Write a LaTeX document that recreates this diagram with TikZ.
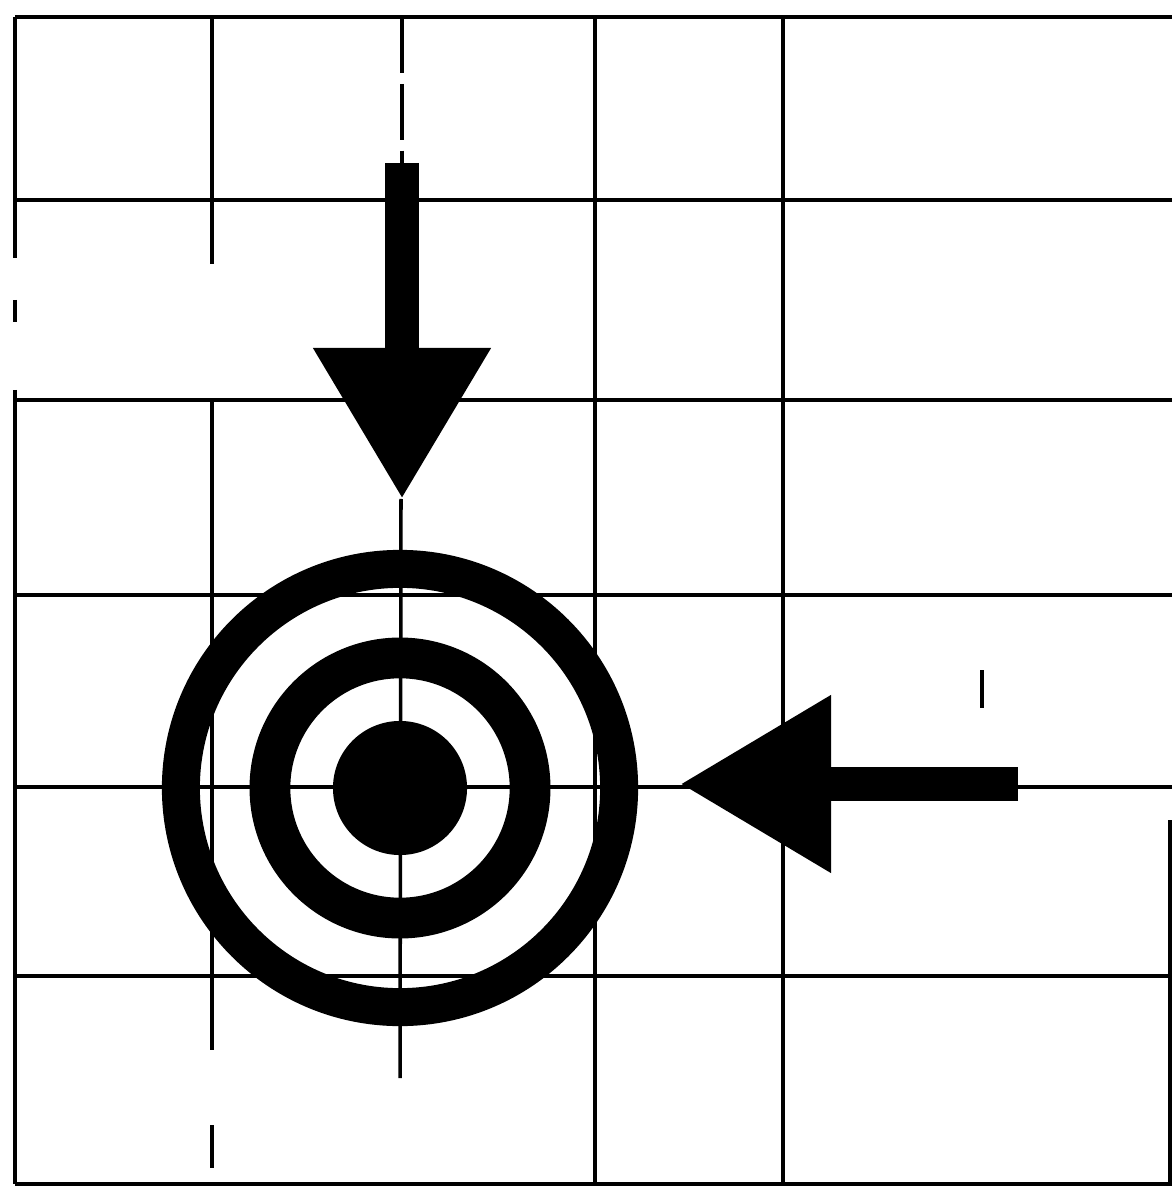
\documentclass[tikz,border=0pt]{standalone}
\usetikzlibrary{arrows.meta}

\tikzset{
	gridline/.style={line width=1pt},
	ring/.style={circle, draw, inner sep=0pt},
	bigarrow/.style={line width=9.4pt, -{Triangle[length=43pt, width=48pt]}}
}

\begin{document}
\begin{tikzpicture}[x=0.01cm, y=-0.01cm]
		
		\useasboundingbox (0,0) rectangle (1172,1192);
		
		% Horizontal grid lines
		\foreach \y in {17,200,400,595,787,976,1184}
		\draw[gridline] (15,\y) -- (1172,\y);
		
		% Vertical grid lines (gaps as in the sheet)
		\draw[gridline] (15,17) -- (15,258) (15,300) -- (15,322) (15,390) -- (15,1184);
		\draw[gridline] (212,17) -- (212,264) (212,400) -- (212,1050) (212,1125) -- (212,1168);
		\draw[gridline, dash pattern=on 16pt off 3pt] (402,17) -- (402,163);
		\draw[gridline] (401,499) -- (400,1078);
		\foreach \x in {595,783}
		\draw[gridline] (\x,17) -- (\x,1184);
		\draw[gridline] (1170,820) -- (1170,1184);
		\draw[gridline] (982,670) -- (982,708);
		
		% Target
		\node[ring, line width=10.8pt, minimum size=4.38cm] (outer) at (400,788) {};
		\node[ring, line width=11.6pt, minimum size=2.6cm] (middle) at (outer.center) {};
		\node[circle, fill, inner sep=0pt, minimum size=1.34cm] (bull) at (outer.center) {};
		
		% Arrows
		\coordinate (downtail) at (402,163);
		\coordinate (downtip) at (402,499);
		\coordinate (lefttail) at (1018,784);
		\coordinate (lefttip) at (680,784);
		\draw[bigarrow] (downtail) -- (downtip);
		\draw[bigarrow] (lefttail) -- (lefttip);
		
	\end{tikzpicture}
\end{document}
